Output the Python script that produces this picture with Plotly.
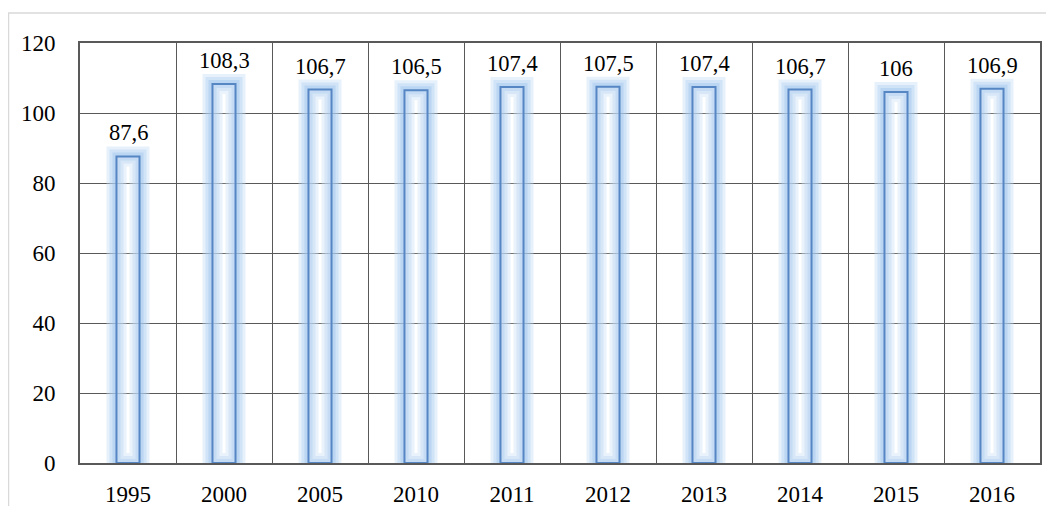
import plotly.graph_objects as go

years = ["1995", "2000", "2005", "2010", "2011", "2012", "2013", "2014", "2015", "2016"]
values = [87.6, 108.3, 106.7, 106.5, 107.4, 107.5, 107.4, 106.7, 106, 106.9]
y_ticks = [0, 20, 40, 60, 80, 100, 120]

labels = [f"{v:g}".replace(".", ",") for v in values]

FONT = "Liberation Serif"
BAR_W = 0.24
fig = go.Figure()

# glow layers (thick translucent outlines)
for lw, col in [(20, "rgba(196,220,244,0.4)"), (14, "rgba(176,208,242,0.4)"),
                (8, "rgba(156,194,238,0.4)")]:
    fig.add_trace(go.Bar(
        x=years, y=values, width=BAR_W,
        marker=dict(color="rgba(0,0,0,0)", line=dict(color=col, width=lw)),
        hoverinfo="skip", showlegend=False,
    ))

# main bar outline
fig.add_trace(go.Bar(
    x=years, y=values, width=BAR_W,
    marker=dict(color="rgba(255,255,255,0.15)", line=dict(color="#5686c4", width=2)),
    showlegend=False,
))

for i, (v, lab) in enumerate(zip(values, labels)):
    fig.add_annotation(x=i, y=v, text=lab, showarrow=False, yanchor="bottom",
                       yshift=9, font=dict(family=FONT, size=22.5, color="#000"))

# page body has an 8px margin; size the figure so the plot area lands where the reference has it
W, H = 1038, 498
L, T = 72, 35
PW, PH = 960, 420
R, B = W - L - PW, H - T - PH
fig.add_shape(type="rect", xref="paper", yref="paper",
              x0=(0.5 - L) / PW, x1=(W + 20 - L) / PW,
              y0=-(B + 20) / PH, y1=(H - B - 5) / PH,
              line=dict(color="#d9d9d9", width=1.5), fillcolor="rgba(0,0,0,0)", layer="below")

fig.update_layout(
    width=W, height=H,
    margin=dict(l=L, r=R, t=T, b=B, autoexpand=False),
    barmode="overlay",
    plot_bgcolor="white", paper_bgcolor="white",
    font=dict(family=FONT, size=23, color="#000"),
    xaxis=dict(type="category", categoryorder="array", categoryarray=years,
               range=[-0.5, len(years) - 0.5], autorange=False,
               tickson="boundaries", showgrid=True, gridcolor="#595959", tickangle=0,
               gridwidth=1, showline=True, linecolor="#595959", linewidth=2, mirror=True,
               ticks="", ticklabelstandoff=9, automargin=False),
    yaxis=dict(range=[0, 120], tickvals=y_ticks, showgrid=True, gridcolor="#595959",
               gridwidth=1, showline=True, linecolor="#595959", linewidth=2, mirror=True,
               ticks="", zeroline=False, ticklabelstandoff=18, automargin=False),
    showlegend=False,
)

fig.write_html("out.html")
